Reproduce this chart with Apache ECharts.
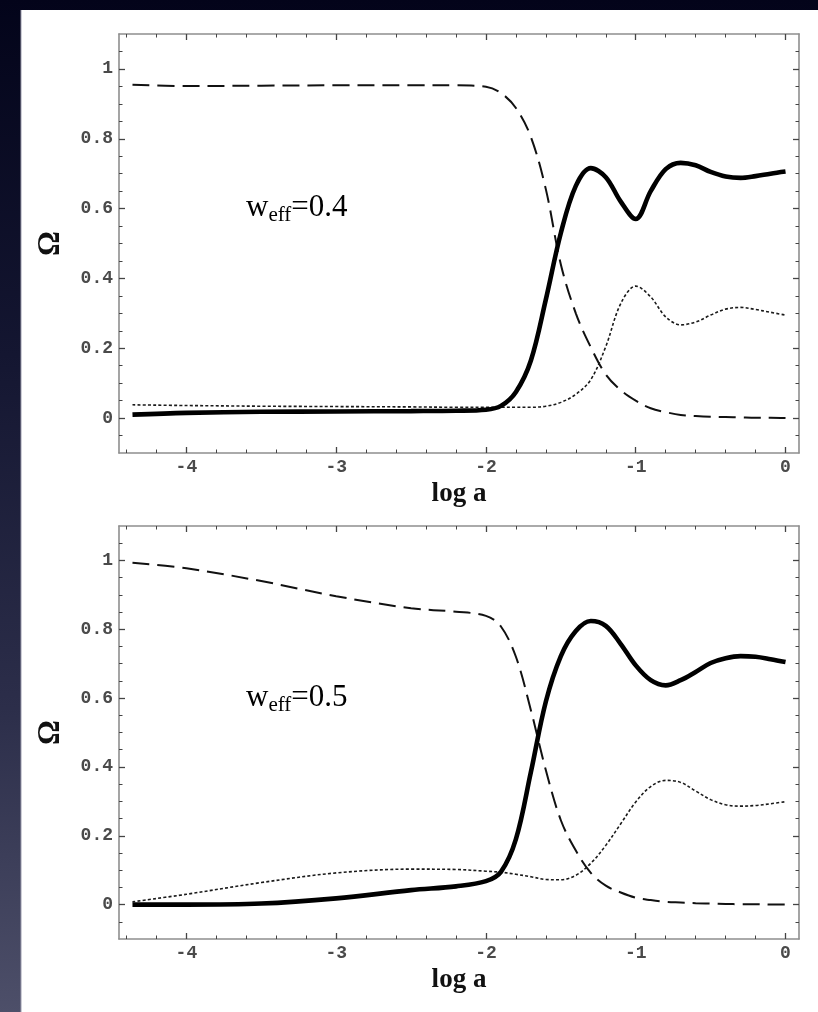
<!DOCTYPE html>
<html>
<head>
<meta charset="utf-8">
<script src="https://cdn.jsdelivr.net/npm/echarts@6/dist/echarts.min.js"></script>
<style>
html,body{margin:0;padding:0;width:818px;height:1012px;overflow:hidden;background:#0a0b20;}
#c{width:818px;height:1012px;}
</style>
</head>
<body>
<div id="c"></div>
<script>
// ---------- data ----------
const logA = [-4.36,-4.0,-3.5,-3.0,-2.5,-2.2,-2.0,-1.9,-1.8,-1.7,-1.6,-1.5,-1.4,-1.3,-1.2,-1.1,-1.0,-0.9,-0.8,-0.7,-0.6,-0.5,-0.4,-0.3,-0.2,-0.1,0];

// panel 1: w_eff = 0.4
const top_solid  = [0.010,0.015,0.018,0.019,0.020,0.021,0.024,0.035,0.075,0.165,0.340,0.530,0.665,0.716,0.690,0.620,0.570,0.650,0.713,0.731,0.724,0.705,0.692,0.688,0.693,0.700,0.706];
const top_dashed = [0.955,0.951,0.952,0.953,0.953,0.953,0.949,0.931,0.888,0.805,0.655,0.440,0.300,0.203,0.125,0.080,0.050,0.028,0.017,0.009,0.006,0.004,0.003,0.002,0.001,0.001,0.000];
const top_dotted = [0.038,0.036,0.034,0.033,0.032,0.031,0.031,0.031,0.031,0.031,0.034,0.045,0.068,0.110,0.205,0.328,0.378,0.347,0.290,0.267,0.275,0.295,0.312,0.317,0.311,0.303,0.295];

// panel 2: w_eff = 0.5
const bot_solid  = [0.000,0.000,0.003,0.018,0.042,0.053,0.068,0.095,0.190,0.385,0.590,0.722,0.795,0.824,0.810,0.757,0.695,0.652,0.637,0.652,0.676,0.702,0.716,0.722,0.720,0.713,0.705];
const bot_dashed = [0.993,0.977,0.940,0.896,0.861,0.851,0.839,0.808,0.720,0.565,0.390,0.245,0.157,0.092,0.055,0.035,0.020,0.013,0.008,0.006,0.004,0.003,0.002,0.001,0.001,0.000,0.000];
const bot_dotted = [0.008,0.030,0.064,0.092,0.103,0.102,0.097,0.094,0.088,0.081,0.073,0.072,0.085,0.120,0.172,0.235,0.298,0.343,0.361,0.355,0.330,0.305,0.290,0.286,0.288,0.293,0.299];

// ticks
const xTicksMajor = [-4,-3,-2,-1,0];
const xTicksMinor = [-4.4,-4.2,-3.8,-3.6,-3.4,-3.2,-2.8,-2.6,-2.4,-2.2,-1.8,-1.6,-1.4,-1.2,-0.8,-0.6,-0.4,-0.2];
const yTicksMajor = [0,0.2,0.4,0.6,0.8,1];
const yTicksMinor = [-0.05,0.05,0.1,0.15,0.25,0.3,0.35,0.45,0.5,0.55,0.65,0.7,0.75,0.85,0.9,0.95,1.05];

const panelLabels = ['0.4','0.5'];
const xTitle = 'log a';
const yTitle = 'Ω';

// ---------- layout ----------
const X_MIN = -4.45, X_MAX = 0.09, Y_MIN = -0.1, Y_MAX = 1.1;
const panelRects = [
  {left:119, top:34, width:680, height:419},
  {left:119, top:526, width:680, height:413}
];
const frameColor = '#8e8e8e';
const tickColor = '#444';
const monoFont = 'Liberation Mono';
const serifFont = 'Liberation Serif';

// each panel uses two overlaid grids: "major" (frame, labels, major ticks) and "minor" (minor ticks only)
const grids = [];
panelRects.forEach(r => { grids.push(Object.assign({}, r)); grids.push(Object.assign({}, r)); });

const xAxes = [], yAxes = [];
grids.forEach((g, gi) => {
  const major = gi % 2 === 0;
  const xBase = {type:'value', gridIndex:gi, min:X_MIN, max:X_MAX, splitLine:{show:false}};
  const yBase = {type:'value', gridIndex:gi, min:Y_MIN, max:Y_MAX, splitLine:{show:false}};
  const xt = major ? xTicksMajor : xTicksMinor;
  const yt = major ? yTicksMajor : yTicksMinor;
  const tl = major ? 6 : 3.5;
  const tw = major ? 1.3 : 1;
  // bottom
  xAxes.push(Object.assign({}, xBase, {position:'bottom',
    name: major ? xTitle : '', nameLocation:'middle', nameGap:28,
    nameTextStyle:{fontFamily:serifFont, fontWeight:'bold', fontSize:27, color:'#111'},
    axisLine:{show:major, onZero:false, lineStyle:{color:frameColor, width:1.6}},
    axisTick:{show:true, inside:true, length:tl, customValues:xt, lineStyle:{color:tickColor, width:tw}},
    axisLabel:{show:major, margin:5, customValues:xTicksMajor, fontFamily:monoFont, fontWeight:'bold', fontSize:18, color:'#4a4a4a',
      formatter:v=>String(Math.round(v))}}));
  // top
  xAxes.push(Object.assign({}, xBase, {position:'top',
    axisLine:{show:major, onZero:false, lineStyle:{color:frameColor, width:1.6}}, axisLabel:{show:false},
    axisTick:{show:true, inside:true, length:tl, customValues:xt, lineStyle:{color:tickColor, width:tw}}}));
  // left
  yAxes.push(Object.assign({}, yBase, {position:'left',
    name: major ? yTitle : '', nameLocation:'middle', nameGap:53, nameRotate:90,
    nameTextStyle:{fontFamily:serifFont, fontWeight:'bold', fontSize:31, color:'#111'},
    axisLine:{show:major, onZero:false, lineStyle:{color:frameColor, width:1.6}},
    axisTick:{show:true, inside:true, length:tl, customValues:yt, lineStyle:{color:tickColor, width:tw}},
    axisLabel:{show:major, margin:6, customValues:yTicksMajor, fontFamily:monoFont, fontWeight:'bold', fontSize:18, color:'#4a4a4a',
      formatter:v=>String(Math.round(v*10)/10)}}));
  // right
  yAxes.push(Object.assign({}, yBase, {position:'right',
    axisLine:{show:major, onZero:false, lineStyle:{color:frameColor, width:1.6}}, axisLabel:{show:false},
    axisTick:{show:true, inside:true, length:tl, customValues:yt, lineStyle:{color:tickColor, width:tw}}}));
});

function pts(arr){ return logA.map((x,i)=>[x, arr[i]]); }
function mkSeries(panel, arr, kind){
  const gi = panel * 2;              // major grid of the panel
  const s = {type:'line', xAxisIndex:gi*2, yAxisIndex:gi*2, data:pts(arr), showSymbol:false,
    smooth:0.35, silent:true, animation:false};
  if(kind==='solid') s.lineStyle={color:'#000', width:4.6, type:'solid'};
  if(kind==='dashed') s.lineStyle={color:'#111', width:2, type:[17,8]};
  if(kind==='dotted') s.lineStyle={color:'#1a1a1a', width:1.6, type:[3,2.2]};
  s.z = kind==='solid'?3:2;
  return s;
}

const richLabel = v => ({
  type:'text', z:10,
  style:{
    text:'{w|w}{s|eff}{n|=' + v + '}',
    rich:{
      w:{fontFamily:serifFont, fontSize:31, color:'#111', lineHeight:37, verticalAlign:'middle'},
      s:{fontFamily:serifFont, fontSize:21, color:'#111', lineHeight:21, verticalAlign:'bottom'},
      n:{fontFamily:serifFont, fontSize:31, color:'#111', lineHeight:37, verticalAlign:'middle'}
    }
  }
});

const chart = echarts.init(document.getElementById('c'), null, {renderer:'canvas'});
const lbl1 = richLabel(panelLabels[0]); lbl1.left = 246; lbl1.top = 192;
const lbl2 = richLabel(panelLabels[1]); lbl2.left = 246; lbl2.top = 682;

chart.setOption({
  animation:false,
  backgroundColor: new echarts.graphic.LinearGradient(0,0,0,1,[
    {offset:0, color:'#03041a'},
    {offset:0.35, color:'#141631'},
    {offset:0.7, color:'#2c2e4a'},
    {offset:1, color:'#4d4f69'}
  ]),
  graphic:[
    {type:'rect', left:21, top:10, z:-10, shape:{width:797, height:1002}, style:{fill:'#ffffff'}},
    {type:'line', z:-9, shape:{x1:21, y1:10, x2:21, y2:1012}, style:{stroke:'#9c9cae', lineWidth:1}},
    lbl1, lbl2
  ],
  grid: grids,
  xAxis: xAxes,
  yAxis: yAxes,
  series: [
    mkSeries(0, top_dashed, 'dashed'),
    mkSeries(0, top_dotted, 'dotted'),
    mkSeries(0, top_solid, 'solid'),
    mkSeries(1, bot_dashed, 'dashed'),
    mkSeries(1, bot_dotted, 'dotted'),
    mkSeries(1, bot_solid, 'solid')
  ]
});
</script>
</body>
</html>
